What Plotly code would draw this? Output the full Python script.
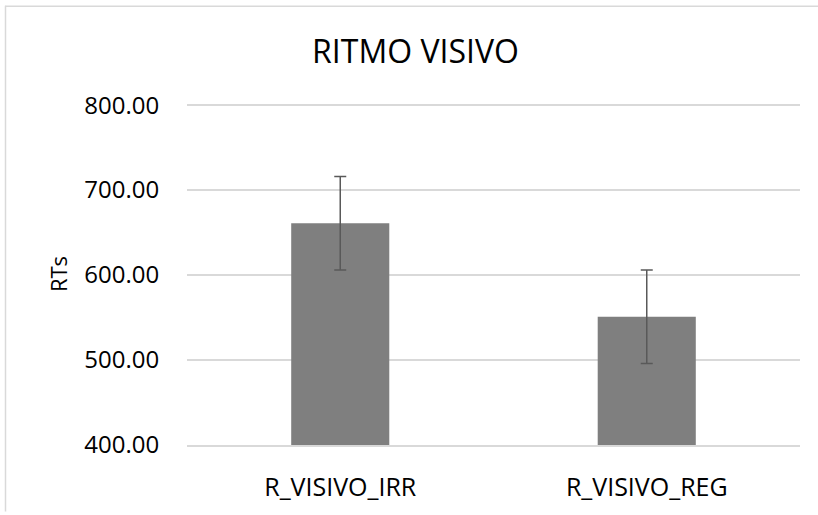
import plotly.graph_objects as go

categories = ["R_VISIVO_IRR", "R_VISIVO_REG"]
means = [661.0, 551.0]
errors = [55.0, 55.0]
tick_vals = [400, 500, 600, 700, 800]
tick_text = ["400.00", "500.00", "600.00", "700.00", "800.00"]

W, H = 818, 515
L, R, T, B = 187, 18, 103, 67
pw, ph = W - L - R, H - T - B

def px_x(x):
    return (x - L) / pw

def px_y(y):
    return (H - B - y) / ph

fig = go.Figure()
fig.add_trace(go.Bar(
    x=categories, y=means,
    marker=dict(color="#7f7f7f", line=dict(width=0)),
    width=0.32,
    error_y=dict(type="data", array=errors, visible=True,
                 color="#595959", thickness=1.5, width=6),
))

font_family = "Open Sans, DejaVu Sans, sans-serif"
fig.update_layout(
    width=W, height=H,
    margin=dict(l=L, r=R, t=T, b=B),
    paper_bgcolor="white", plot_bgcolor="white",
    showlegend=False,
    title=dict(text="RITMO VISIVO", x=(312 + 519) / 2 / W, xanchor="center",
               y=1 - 52 / H, yanchor="middle",
               font=dict(family=font_family, size=32, color="#000000")),
    xaxis=dict(showgrid=False, showline=True, linecolor="#d9d9d9", linewidth=1.5,
               ticks="outside", ticklen=19,
               tickcolor="rgba(0,0,0,0)",
               tickfont=dict(family=font_family, size=25, color="#000000")),
    yaxis=dict(range=[400, 802.5], tickvals=tick_vals, ticktext=tick_text,
               showgrid=True, gridcolor="#d9d9d9", gridwidth=1.5,
               zeroline=False, showline=False,
               ticks="outside", ticklen=22, tickcolor="rgba(0,0,0,0)",
               tickfont=dict(family=font_family, size=24, color="#000000"),
               title=dict(text="RTs", standoff=10,
                          font=dict(family=font_family, size=22, color="#000000"))),
    shapes=[
        dict(type="line", xref="paper", yref="paper",
             x0=px_x(5), x1=px_x(818), y0=px_y(5.5), y1=px_y(5.5),
             line=dict(color="#d9d9d9", width=1.5)),
        dict(type="line", xref="paper", yref="paper",
             x0=px_x(5.5), x1=px_x(5.5), y0=px_y(5), y1=px_y(515),
             line=dict(color="#d9d9d9", width=1.5)),
    ],
)

fig.write_html("out.html", config={"displayModeBar": False},
               post_script="document.body.style.margin='0';document.body.style.overflow='hidden';")
